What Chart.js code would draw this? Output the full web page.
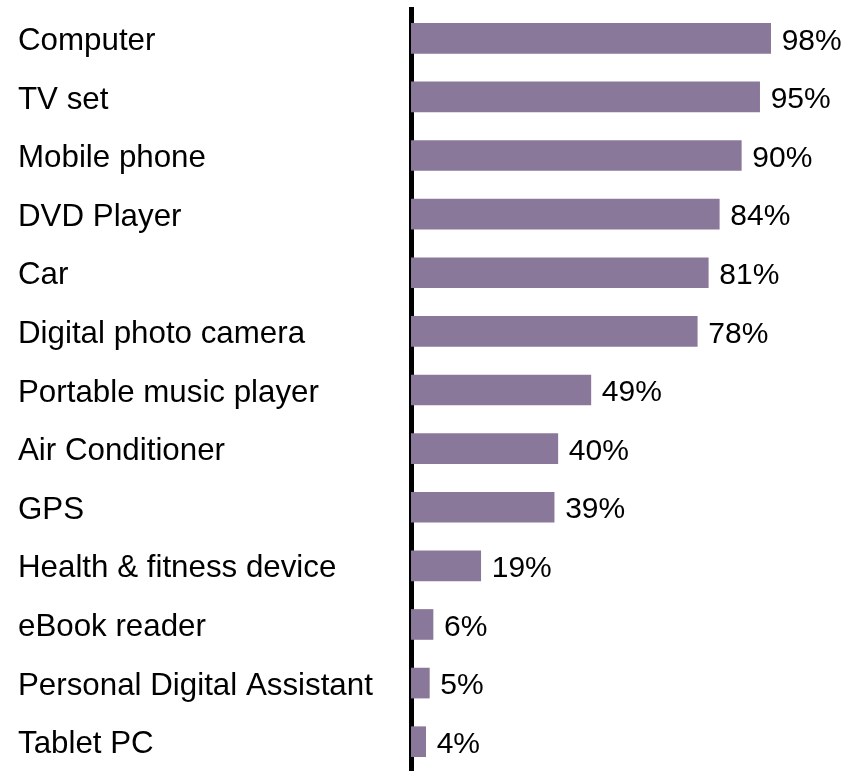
<!DOCTYPE html>
<html>
<head>
<meta charset="utf-8">
<script src="https://cdn.jsdelivr.net/npm/chart.js@4"></script>
<style>
  html, body { margin: 0; padding: 0; background: #fff; }
  #wrap { width: 849px; height: 771px; }
</style>
</head>
<body>
<div id="wrap"><canvas id="myChart"></canvas></div>
<script>
'use strict';

const devices = [
	'Computer',
	'TV set',
	'Mobile phone',
	'DVD Player',
	'Car',
	'Digital photo camera',
	'Portable music player',
	'Air Conditioner',
	'GPS',
	'Health & fitness device',
	'eBook reader',
	'Personal Digital Assistant',
	'Tablet PC',
];
const ownership = [98, 95, 90, 84, 81, 78, 49, 40, 39, 19, 6, 5, 4];

const fontFamily = '"Liberation Sans", Arial, Helvetica, sans-serif';

// writes "NN%" just past the end of each bar
const valueLabels = {
	id: 'valueLabels',
	beforeDraw(chart) {
		// nudge the category names down a little so they sit level with the bars
		chart.scales.y.getLabelItems().forEach((item) => {
			if (!item.nudged) {
				item.options.translation[1] += 3;
				item.nudged = true;
			}
		});
	},
	afterDatasetsDraw(chart) {
		const ctx = chart.ctx;
		const meta = chart.getDatasetMeta(0);
		ctx.save();
		ctx.font = '30px ' + fontFamily;
		ctx.fillStyle = '#000';
		ctx.textAlign = 'left';
		ctx.textBaseline = 'middle';
		meta.data.forEach((bar, i) => {
			ctx.fillText(ownership[i] + '%', bar.x + 11, bar.y + 3);
		});
		ctx.restore();
	},
};

const ctx = document.getElementById('myChart').getContext('2d');

const myChart = new Chart(ctx, {
	type: 'bar',
	data: {
		labels: devices,
		datasets: [
			{
				data: ownership,
				backgroundColor: '#8a789a',
				borderWidth: 0,
				barThickness: 30,
			},
		],
	},
	plugins: [valueLabels],
	options: {
		indexAxis: 'y',
		responsive: true,
		maintainAspectRatio: false,
		animation: false,
		layout: {
			padding: { left: 18, right: 71, top: 9, bottom: 0 },
		},
		plugins: {
			legend: { display: false },
			tooltip: { enabled: false },
		},
		scales: {
			x: {
				display: false,
				min: 0,
				max: 100,
			},
			y: {
				z: 1,
				afterFit(scale) {
					scale.width = 393;
					// no extra room above/below for the first and last label
					scale.paddingTop = 0;
					scale.paddingBottom = 0;
				},
				grid: { display: false, drawTicks: false },
				border: { display: true, color: '#000', width: 5 },
				ticks: {
					autoSkip: false,
					crossAlign: 'far',
					color: '#000',
					font: { family: fontFamily, size: 31.3 },
				},
			},
		},
	},
});
</script>
</body>
</html>
